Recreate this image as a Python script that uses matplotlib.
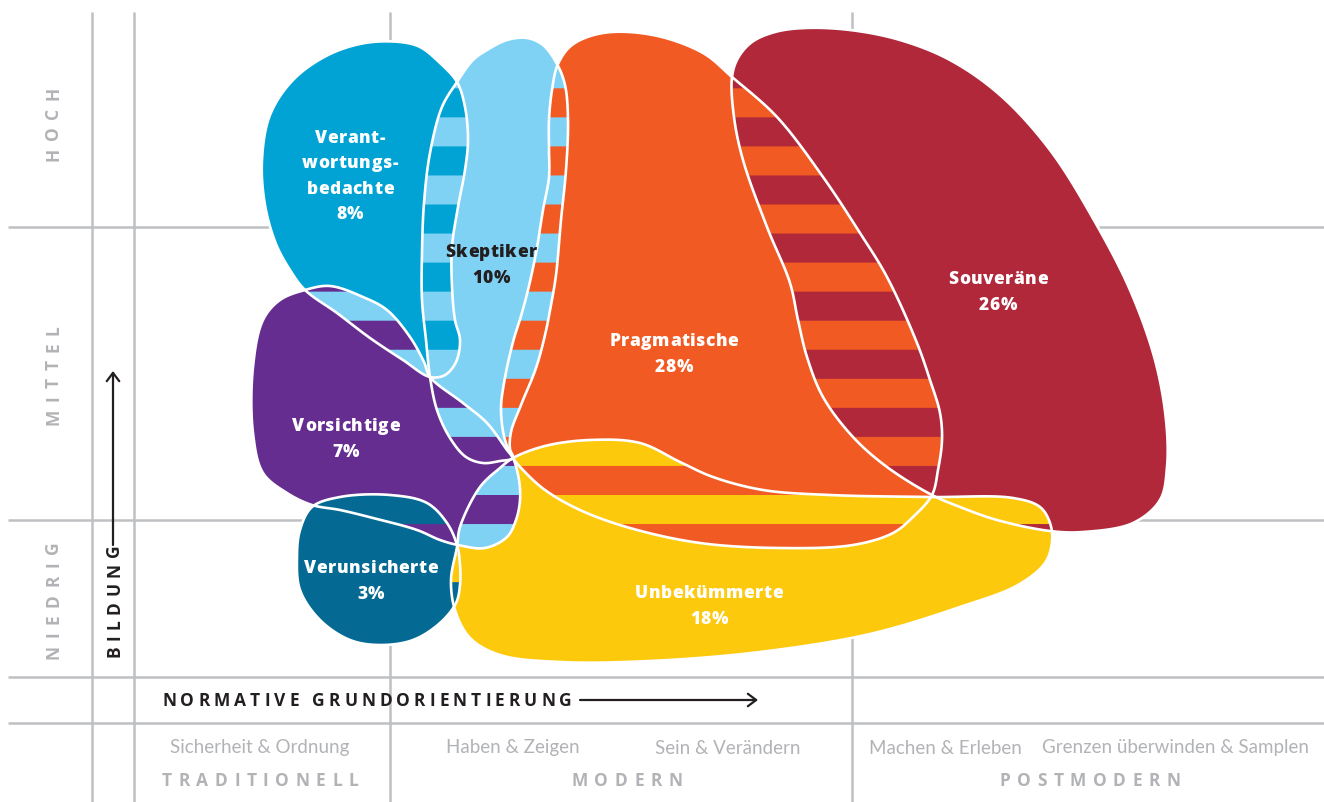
import numpy as np
import matplotlib
matplotlib.use("Agg")  # headless
import matplotlib.pyplot as plt
from matplotlib.path import Path
from matplotlib.patches import PathPatch
from matplotlib.transforms import Bbox
from matplotlib.font_manager import FontProperties
from matplotlib.textpath import TextToPath

plt.rcParams['font.family'] = ['Lato', 'DejaVu Sans']
BOLD = ['Open Sans', 'DejaVu Sans']

# --- Milieus (map coordinates: x = normative orientation, y = education, y grows downward)
names = ["Verantwortungsbedachte", "Skeptiker", "Pragmatische", "Souveräne",
         "Vorsichtige", "Verunsicherte", "Unbekümmerte"]
label_lines = [["Verant-", "wortungs-", "bedachte"], ["Skeptiker"], ["Pragmatische"],
               ["Souveräne"], ["Vorsichtige"], ["Verunsicherte"], ["Unbekümmerte"]]
shares = [8, 10, 28, 26, 7, 3, 18]
fill_colors = ["#00a3d3", "#80d2f4", "#f15a22", "#b0283a", "#662d91", "#046a93", "#fdc90c"]
text_colors = ["white", "#231f20", "white", "white", "white", "white", "white"]
label_centers = [(350, 175), (491, 264), (674, 353), (998, 291), (346, 438), (371, 580), (709, 605)]

outline_verant = [(400, 42), (420, 47), (440, 63), (457, 82), (465, 107), (468, 140), (465, 170),
                  (458, 207), (452, 247), (452, 287), (455, 320), (460, 340), (456, 362), (445, 375),
                  (430, 377), (403, 360), (370, 338), (337, 313), (305, 290), (290, 270), (276, 244),
                  (265, 205), (262, 160), (270, 115), (293, 80), (328, 55), (365, 43)]
outline_skeptiker = [(457, 82), (473, 60), (487, 50), (507, 40), (527, 38), (543, 45), (557, 64),
                     (565, 85), (568, 120), (566, 170), (561, 220), (556, 275), (551, 305),
                     (545, 335), (536, 368), (521, 405), (511, 432), (510, 449), (513, 458),
                     (500, 461), (483, 463), (466, 457), (450, 438), (437, 410), (430, 377),
                     (426, 340), (422, 300), (422, 253), (424, 203), (430, 153), (442, 107)]
outline_pragmatische = [(558, 64), (572, 45), (603, 33), (653, 35), (703, 53), (732, 77), (777, 117),
                        (823, 177), (860, 233), (887, 277), (917, 343), (930, 380), (940, 413),
                        (942, 440), (938, 470), (932, 495), (913, 517), (893, 533), (853, 545),
                        (780, 548), (700, 543), (630, 528), (580, 510), (545, 490), (523, 470),
                        (513, 458), (505, 440), (501, 410), (504, 383), (513, 342), (521, 316),
                        (528, 290), (536, 253), (543, 210), (549, 177), (549, 150), (549, 120),
                        (552, 90)]
outline_souveraene = [(732, 77), (738, 58), (752, 42), (775, 32), (805, 28), (850, 30), (900, 40),
                      (950, 60), (1000, 95), (1050, 150), (1095, 222), (1130, 290), (1155, 360),
                      (1166, 420), (1167, 467), (1160, 500), (1133, 523), (1083, 532), (1050, 531),
                      (997, 520), (960, 507), (932, 495), (887, 467), (853, 437), (823, 397),
                      (807, 357), (798, 320), (790, 283), (767, 227), (743, 160), (734, 117)]
outline_vorsichtige = [(305, 290), (330, 286), (363, 297), (387, 310), (410, 337), (424, 362),
                       (430, 377), (463, 403), (487, 423), (507, 450), (513, 458), (519, 480),
                       (520, 500), (516, 520), (507, 537), (485, 548), (458, 545), (440, 540),
                       (417, 530), (373, 518), (340, 510), (312, 505), (287, 493), (263, 473),
                       (253, 433), (253, 367), (263, 320), (280, 300)]
outline_verunsicherte = [(312, 507), (340, 497), (390, 495), (427, 503), (447, 523), (457, 545),
                         (460, 565), (460, 585), (456, 603), (440, 623), (413, 640), (380, 645),
                         (350, 640), (320, 620), (300, 590), (297, 557), (300, 530)]
outline_unbekuemmerte = [(513, 458), (545, 446), (590, 440), (640, 443), (680, 462), (713, 477),
                         (763, 490), (830, 495), (930, 497), (1013, 498), (1040, 507), (1050, 523),
                         (1052, 542), (1045, 563), (1018, 585), (960, 607), (870, 634), (760, 652),
                         (650, 661), (560, 662), (500, 655), (470, 638), (455, 610), (451, 580),
                         (457, 547), (460, 527), (480, 487), (500, 468)]
outlines = [outline_verant, outline_skeptiker, outline_pragmatische, outline_souveraene,
            outline_vorsichtige, outline_verunsicherte, outline_unbekuemmerte]

# overlapping milieus: (a, b, colour of odd stripes, colour of even stripes)
overlaps = [
    ("Verantwortungsbedachte", "Skeptiker", "#00a3d3", "#80d2f4"),
    ("Verantwortungsbedachte", "Vorsichtige", "#662d91", "#80d2f4"),
    ("Skeptiker", "Vorsichtige", "#662d91", "#80d2f4"),
    ("Skeptiker", "Pragmatische", "#f15a22", "#80d2f4"),
    ("Pragmatische", "Souveräne", "#f15a22", "#b0283a"),
    ("Pragmatische", "Unbekümmerte", "#fdc90c", "#f15a22"),
    ("Souveräne", "Unbekümmerte", "#fdc90c", "#b0283a"),
    ("Vorsichtige", "Unbekümmerte", "#662d91", "#80d2f4"),
    ("Vorsichtige", "Verunsicherte", "#046a93", "#662d91"),
    ("Verunsicherte", "Unbekümmerte", "#fdc90c", "#046a93"),
]
stripe_start, stripe_h = 1.15, 29.05

# --- frame / axis texts
grid_h = [227, 520, 677, 723]
grid_v = [92, 134, 390, 852]
levels = ["HOCH", "MITTEL", "NIEDRIG"]
level_y = [124, 375, 600]
values = ["Sicherheit & Ordnung", "Haben & Zeigen", "Sein & Verändern",
          "Machen & Erleben", "Grenzen überwinden & Samplen"]
values_x = [260, 513, 728, 945, 1175]
groups = ["TRADITIONELL", "MODERN", "POSTMODERN"]
groups_x = [260, 627, 1090]

GRID = "#bfc0c3"
GREY_TXT = "#b2b3b6"
DARK = "#231f20"
PX = 100 / 72
_t2p = TextToPath()


def _cr(p0, p1, p2, p3, n):
    # centripetal Catmull-Rom segment p1 -> p2
    def tj(ti, a, b):
        return ti + max(np.hypot(*(b - a)), 1e-3) ** 0.5
    t0 = 0.0
    t1 = tj(t0, p0, p1); t2 = tj(t1, p1, p2); t3 = tj(t2, p2, p3)
    t = np.linspace(t1, t2, n, endpoint=False)[:, None]
    a1 = (t1 - t) / (t1 - t0) * p0 + (t - t0) / (t1 - t0) * p1
    a2 = (t2 - t) / (t2 - t1) * p1 + (t - t1) / (t2 - t1) * p2
    a3 = (t3 - t) / (t3 - t2) * p2 + (t - t2) / (t3 - t2) * p3
    b1 = (t2 - t) / (t2 - t0) * a1 + (t - t0) / (t2 - t0) * a2
    b2 = (t3 - t) / (t3 - t1) * a2 + (t - t1) / (t3 - t1) * a3
    return (t2 - t) / (t2 - t1) * b1 + (t - t1) / (t2 - t1) * b2


def smooth_path(pts, n=16):
    P = np.asarray(pts, float)
    N = len(P)
    segs = [_cr(P[i - 1], P[i], P[(i + 1) % N], P[(i + 2) % N], n) for i in range(N)]
    v = np.vstack(segs + [segs[0][:1]])
    codes = np.full(len(v), Path.LINETO)
    codes[0] = Path.MOVETO
    codes[-1] = Path.CLOSEPOLY
    return Path(v, codes)


def tracked(ax, x, y, s, track, size, color, vertical=False, weight="bold", zorder=5):
    """letter-spaced text centred on (x, y); vertical reads bottom to top"""
    fp = FontProperties(family=BOLD, weight=weight, size=size)
    cap = _t2p.get_text_width_height_descent("H", fp, ismath=False)[1] * PX
    widths = [size * PX * 0.3 if ch == " " else
              _t2p.get_text_width_height_descent(ch, fp, ismath=False)[0] * PX for ch in s]
    total = sum(widths) + track * (len(s) - 1)
    pos = -total / 2
    for ch, w in zip(s, widths):
        if ch != " ":
            if vertical:
                ax.text(x + cap / 2, y - pos, ch, rotation=90, rotation_mode="anchor",
                        ha="left", va="baseline", fontproperties=fp, color=color, zorder=zorder)
            else:
                ax.text(x + pos, y + cap / 2, ch, ha="left", va="baseline",
                        fontproperties=fp, color=color, zorder=zorder)
        pos += w + track


fig = plt.figure(figsize=(13.24, 8.02), dpi=100)
ax = fig.add_axes([0, 0, 1, 1])
ax.set_xlim(0, 1324)
ax.set_ylim(802, 0)
ax.axis("off")

for y in grid_h:
    ax.plot([8, 1324], [y, y], color=GRID, lw=1.8, zorder=1, solid_capstyle="butt")
for x in grid_v:
    ax.plot([x, x], [12, 802], color=GRID, lw=1.8, zorder=1, solid_capstyle="butt")

paths = {nm: smooth_path(o) for nm, o in zip(names, outlines)}
for nm, c in zip(names, fill_colors):
    ax.add_patch(PathPatch(paths[nm], fc=c, ec="none", lw=0, zorder=2))

# striped overlaps
for a, b, c_odd, c_even in overlaps:
    base = PathPatch(paths[b], fc=c_even, ec="none", lw=0, zorder=3)
    base.set_clip_path(PathPatch(paths[a], transform=ax.transData))
    ax.add_patch(base)
    ext = paths[b].get_extents()
    k0 = int((ext.y0 - stripe_start) // stripe_h)
    k1 = int((ext.y1 - stripe_start) // stripe_h) + 1
    for k in range(k0, k1 + 1):
        if k % 2 == 0:
            continue
        y0 = stripe_start + k * stripe_h
        band = paths[b].clip_to_bbox(Bbox([[0, y0], [1324, y0 + stripe_h]]))
        if len(band.vertices) < 3:
            continue
        p = PathPatch(band, fc=c_odd, ec="none", lw=0, zorder=3.1)
        p.set_clip_path(PathPatch(paths[a], transform=ax.transData))
        ax.add_patch(p)

for nm in names:
    ax.add_patch(PathPatch(paths[nm], fc="none", ec="white", lw=1.9, zorder=4))

# milieu labels
for lines, share, (cx, cy), tc in zip(label_lines, shares, label_centers, text_colors):
    rows = lines + [f"{share}%"]
    for i, row in enumerate(rows):
        yy = cy + (i - (len(rows) - 1) / 2) * 25.5
        tracked(ax, cx, yy, row, 0.5, 12.5, tc, weight="heavy")

# axis labels
for lv, y in zip(levels, level_y):
    tracked(ax, 52, y, lv, 7.5, 12.5, GREY_TXT, vertical=True)
tracked(ax, 113, 601, "BILDUNG", 5.5, 12.5, DARK, vertical=True)
ax.annotate("", xy=(113, 371), xytext=(113, 545),
            arrowprops=dict(arrowstyle="->,head_length=0.6,head_width=0.45", lw=1.6,
                            color=DARK, shrinkA=0, shrinkB=0))
tracked(ax, 367, 700, "NORMATIVE GRUNDORIENTIERUNG", 4.0, 12.5, DARK)
ax.annotate("", xy=(758, 700), xytext=(580, 700),
            arrowprops=dict(arrowstyle="->,head_length=0.6,head_width=0.45", lw=1.6,
                            color=DARK, shrinkA=0, shrinkB=0))

for v, x in zip(values, values_x):
    ax.text(x, 748, v, ha="center", va="center", fontsize=13.5, color=GREY_TXT)
for g, x in zip(groups, groups_x):
    tracked(ax, x, 780, g, 6.5, 12.5, GREY_TXT)

fig.savefig("out.png", dpi=100)
plt.close(fig)
